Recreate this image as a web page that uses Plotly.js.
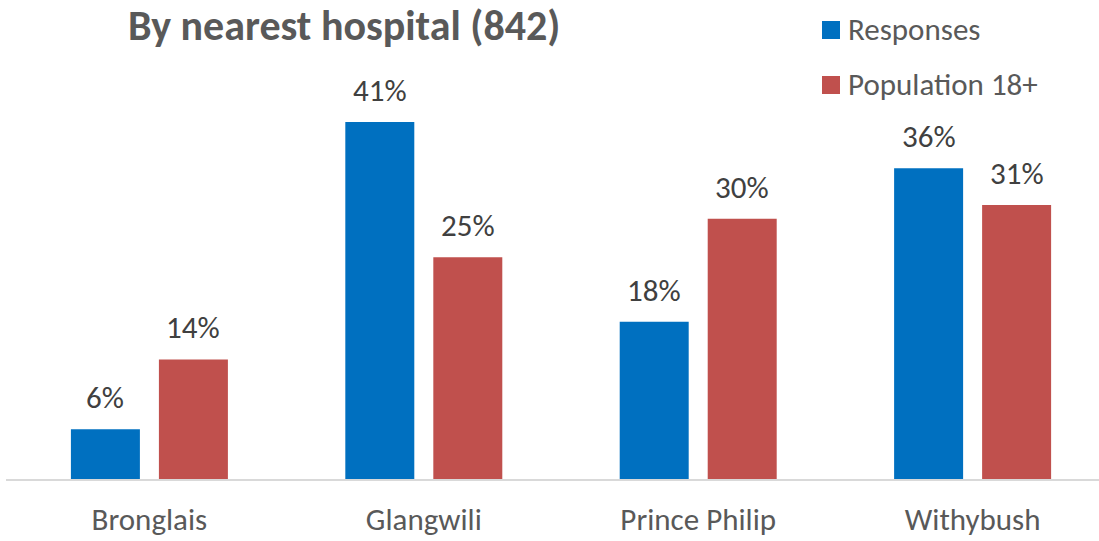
<!DOCTYPE html>
<html>
<head>
<meta charset="utf-8">
<script src="https://cdn.plot.ly/plotly-3.0.1.min.js"></script>
<style>
  html, body { margin: 0; padding: 0; background: #ffffff; }
  #chart { width: 1099px; height: 541px; }
</style>
</head>
<body>
<div id="chart"></div>
<script>
// ---- Data ----
const categories = ['Bronglais', 'Glangwili', 'Prince Philip', 'Withybush'];
const responses = [5.7, 40.9, 18.0, 35.6];
const population = [13.7, 25.4, 29.8, 31.4];
const responsesLabels = ['6%', '41%', '18%', '36%'];
const populationLabels = ['14%', '25%', '30%', '31%'];
const seriesNames = ['Responses', 'Population 18+'];

// ---- Style ----
const FONT = 'Carlito, Lato, "Open Sans", sans-serif';
const COLORS = ['#0070C0', '#C0504D'];
const W = 1099, H = 541;
const M = { l: 6, r: 0, t: 20, b: 62 };
const px2x = px => (px - M.l) / (W - M.l - M.r);
const py2y = py => (H - M.b - py) / (H - M.t - M.b);

const traces = [
  { type: 'bar', name: seriesNames[0], x: categories, y: responses,
    marker: { color: COLORS[0] }, hoverinfo: 'none', showlegend: false },
  { type: 'bar', name: seriesNames[1], x: categories, y: population,
    marker: { color: COLORS[1] }, hoverinfo: 'none', showlegend: false }
];

const annotations = [];
function addLabels(vals, labels, shift) {
  vals.forEach((v, i) => {
    annotations.push({
      x: categories[i], y: v, xref: 'x', yref: 'y',
      text: labels[i], showarrow: false,
      xanchor: 'center', yanchor: 'bottom',
      xshift: shift, yshift: 11,
      font: { family: FONT, size: 31, color: '#404040' }
    });
  });
}
addLabels(responses, responsesLabels, -44);
addLabels(population, populationLabels, 44);

// Legend (drawn as shapes + text)
const shapes = [];
seriesNames.forEach((name, k) => {
  const cy = 30 + k * 55;
  shapes.push({
    type: 'rect', xref: 'paper', yref: 'paper',
    x0: px2x(822), x1: px2x(840), y0: py2y(cy + 9), y1: py2y(cy - 9),
    fillcolor: COLORS[k], line: { width: 0 }
  });
  annotations.push({
    xref: 'paper', yref: 'paper', x: px2x(846), y: py2y(cy - 1),
    xanchor: 'left', yanchor: 'middle', showarrow: false,
    text: name,
    font: { family: FONT, size: 31, color: '#595959' }
  });
});

const layout = {
  width: W, height: H,
  margin: M,
  paper_bgcolor: '#ffffff', plot_bgcolor: '#ffffff',
  font: { family: FONT, color: '#595959' },
  title: {
    text: '<b>By nearest hospital (842)</b>',
    font: { family: FONT, size: 42, color: '#595959' },
    xref: 'container', yref: 'container',
    x: 128 / W, xanchor: 'left',
    y: 1 - 25 / H, yanchor: 'middle'
  },
  barmode: 'group',
  bargap: 0.3586,
  bargroupgap: 0.216,
  showlegend: false,
  xaxis: {
    type: 'category',
    range: [-0.5226, 3.4606],
    showline: true, linecolor: '#D9D9D9', linewidth: 1.5,
    showgrid: false, zeroline: false,
    ticks: 'outside', ticklen: 12, tickcolor: 'rgba(0,0,0,0)',
    tickfont: { family: FONT, size: 31, color: '#595959' },
    fixedrange: true
  },
  yaxis: {
    range: [0, 52.58],
    visible: false,
    showgrid: false, zeroline: false,
    fixedrange: true
  },
  shapes: shapes,
  annotations: annotations
};

Plotly.newPlot('chart', traces, layout, { displayModeBar: false, staticPlot: true });
</script>
</body>
</html>
